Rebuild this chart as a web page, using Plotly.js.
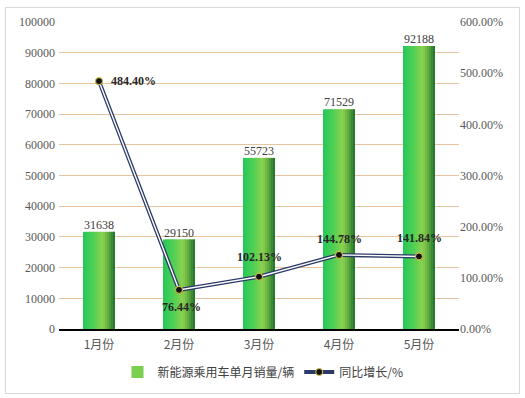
<!DOCTYPE html>
<html>
<head>
<meta charset="utf-8">
<script src="https://cdn.plot.ly/plotly-3.0.1.min.js"></script>
<style>
  html, body { margin: 0; padding: 0; background: #fff; }
  #wrap { position: relative; width: 525px; height: 398px; }
  #chart { position: absolute; left: 0; top: 0; width: 525px; height: 398px; }
  #frame { position: absolute; left: 5px; top: 7px; width: 513px; height: 385px;
           border: 1px solid #d9d9d9; pointer-events: none; }
</style>
</head>
<body>
<div id="wrap">
  <div id="chart"></div>
  <div id="frame"></div>
</div>
<script>
// ---- data ----
const months = ["1月份", "2月份", "3月份", "4月份", "5月份"];
const sales = [31638, 29150, 55723, 71529, 92188];
const growth = [484.40, 76.44, 102.13, 144.78, 141.84];
const growthLabels = ["484.40%", "76.44%", "102.13%", "144.78%", "141.84%"];
const salesName = "新能源乘用车单月销量/辆";
const growthName = "同比增长/%";

// ---- styles ----
const serif = "Liberation Serif, Times New Roman, serif";
const cjk = "Noto Sans CJK SC, sans-serif";
// gradient stops across the bar width (position 0..1, rgb)
const stops = [[0, [36, 200, 88]], [0.35, [84, 208, 84]], [0.62, [142, 208, 78]],
               [0.8, [92, 170, 62]], [1, [28, 112, 44]]];
function gradColor(t) {
  for (let k = 1; k < stops.length; k++) {
    if (t <= stops[k][0]) {
      const a = stops[k - 1], b = stops[k];
      const f = (t - a[0]) / (b[0] - a[0]);
      const c = a[1].map((v, j) => Math.round(v + (b[1][j] - v) * f));
      return "rgb(" + c.join(",") + ")";
    }
  }
  return "rgb(" + stops[stops.length - 1][1].join(",") + ")";
}
const nSlices = 16;
const barWidth = 0.4;
const sliceW = barWidth / nSlices;

const traces = [];
for (let i = 0; i < nSlices; i++) {
  const isLast = i === nSlices - 1;
  traces.push({
    type: "bar", x: months, y: sales,
    width: isLast ? sliceW : sliceW * 2, offset: -barWidth / 2 + i * sliceW,
    marker: { color: gradColor((i + 0.5) / nSlices), line: { width: 0 } },
    name: salesName, showlegend: i === 8, legendgroup: "sales",
    hoverinfo: "skip"
  });
}
// bar value labels
traces.push({
  type: "scatter", mode: "text", x: months, y: sales,
  text: sales.map(String), textposition: "top center",
  textfont: { family: serif, size: 12, color: "#404040" },
  showlegend: false, hoverinfo: "skip", cliponaxis: false
});
// double line: dark outer, white inner
traces.push({
  type: "scatter", mode: "lines+markers", x: months, y: growth, yaxis: "y2",
  line: { color: "#2b3a67", width: 4 },
  marker: { color: "#111", size: 7, line: { color: "#d8c84a", width: 1 } },
  name: growthName, showlegend: true, hoverinfo: "skip"
});
traces.push({
  type: "scatter", mode: "lines", x: months, y: growth, yaxis: "y2",
  line: { color: "#ffffff", width: 1.4 },
  showlegend: false, hoverinfo: "skip"
});
traces.push({
  type: "scatter", mode: "markers", x: months, y: growth, yaxis: "y2",
  marker: { color: "#111", size: 7, line: { color: "#d8c84a", width: 1 } },
  showlegend: false, hoverinfo: "skip"
});

// growth labels as annotations
const labelXAnchor = ["left", "center", "center", "center", "center"];
const labelXShift = [10, 2, 0, 0, 0];
const labelYShift = [0, -17, 20, 16, 18];
const annotations = months.map((m, i) => ({
  x: m, y: growth[i], xref: "x", yref: "y2",
  text: "<b>" + growthLabels[i] + "</b>", showarrow: false,
  xanchor: labelXAnchor[i], yanchor: "middle",
  xshift: labelXShift[i], yshift: labelYShift[i],
  font: { family: serif, size: 12, color: "#262626" }
}));

const layout = {
  width: 525, height: 398,
  margin: { l: 59, r: 66, t: 22, b: 67 },
  paper_bgcolor: "rgba(0,0,0,0)", plot_bgcolor: "rgba(0,0,0,0)",
  barmode: "overlay",
  showlegend: true,
  annotations: annotations,
  legend: {
    orientation: "h", x: 0.51, xanchor: "center", y: -0.14, yanchor: "middle",
    font: { family: cjk, size: 12, color: "#404040" },
    traceorder: "normal", itemwidth: 30
  },
  xaxis: {
    type: "category", range: [-0.5, 4.5],
    showline: true, linecolor: "#000", linewidth: 1.5,
    ticks: "", showgrid: false, zeroline: false, ticklabelstandoff: 4,
    tickfont: { family: cjk, size: 12, color: "#555" }
  },
  yaxis: {
    range: [0, 100000], dtick: 10000, tick0: 0,
    showgrid: true, gridcolor: "#e8c3a0", gridwidth: 1,
    zeroline: false, showline: false, ticks: "", ticklabelstandoff: 3,
    tickformat: "d",
    tickfont: { family: serif, size: 12, color: "#595959" }
  },
  yaxis2: {
    overlaying: "y", side: "right", range: [0, 600], dtick: 100, tick0: 0,
    showgrid: false, zeroline: false, showline: false, ticks: "",
    tickformat: ".2f", ticksuffix: "%",
    tickfont: { family: serif, size: 12, color: "#595959" }
  }
};

Plotly.newPlot("chart", traces, layout, { displayModeBar: false, staticPlot: true });
</script>
</body>
</html>
